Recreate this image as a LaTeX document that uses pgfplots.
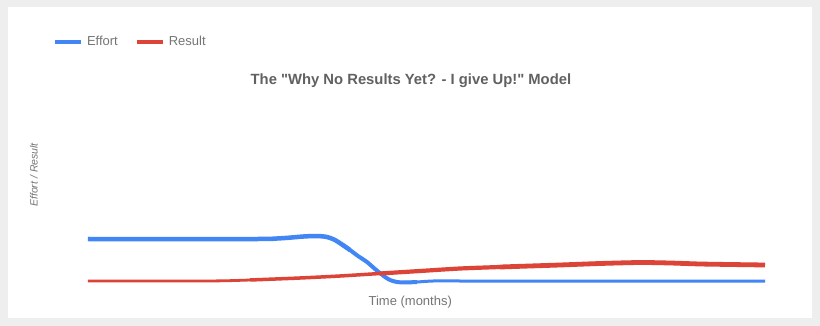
\documentclass[border=0pt]{standalone}
\usepackage{pgfplots}
\pgfplotsset{compat=1.18}
\usepackage{fontspec}
\setmainfont{Liberation Sans}[Ligatures=TeXOff]
\definecolor{gblue}{HTML}{4285F4}
\definecolor{gred}{HTML}{DB4437}
\definecolor{frame}{HTML}{EEEEEE}
\definecolor{titlegray}{HTML}{616161}
\definecolor{axgray}{HTML}{757575}
\begin{document}
\begin{tikzpicture}
\fill[frame] (0pt,0pt) rectangle (820pt,-326pt);
\fill[white] (7.5pt,-7.5pt) rectangle (812pt,-317.5pt);
\begin{axis}[
  at={(88pt,-282pt)}, anchor=south west,
  scale only axis, width=677pt, height=214pt,
  xmin=0, xmax=677, ymin=0, ymax=214,
  axis lines=left, axis line style={draw=none}, ticks=none, clip=false,
  title={The "Why No Results Yet? - I give Up!" Model},
  title style={at={(axis description cs:0.477,0.897)}, anchor=base, yshift=0pt,
    font=\fontsize{14.8}{17}\selectfont\bfseries, text=titlegray, inner sep=0pt},
  xlabel={Time (months)},
  xlabel style={at={(axis description cs:0.476,-0.1075)}, anchor=base,
    font=\fontsize{13}{15}\selectfont, text=axgray, inner sep=0pt},
  ylabel={\itshape Effort / Result},
  ylabel style={at={(axis description cs:-0.0798,0.5)}, anchor=center, rotate=0,
    font=\fontsize{10.5}{12}\selectfont, text=axgray, inner sep=0pt},
  legend columns=2,
  legend style={at={(axis description cs:-0.0517,1.1229)}, anchor=west,
    draw=none, fill=none, inner sep=0pt, outer sep=0pt,
    font=\fontsize{13}{15}\selectfont, text=axgray,
    nodes={inner sep=0pt, anchor=west},
    /tikz/every odd column/.append style={column sep=4pt},
    /tikz/every even column/.append style={column sep=17pt}},
  legend image code/.code={\draw[#1] (0pt,0pt) -- (26pt,0pt);},
  line cap=butt, line join=round,
]
\addlegendimage{gblue, line width=4pt}
\addlegendentry{Effort}
\addlegendimage{gred, line width=4pt}
\addlegendentry{Result}

% Effort (blue)
\addplot[gblue, line width=4.5pt, smooth, tension=0.5, forget plot] coordinates {
 (0,43) (170,43) (185,43.3) (200,44.2) (214,45.4) (227,46) (238,45.2) (246,42.5) (254,37.5) (262,32)};
\addplot[gblue, line width=4pt, smooth, tension=0.4, forget plot] coordinates {
 (254,37.5) (262,32) (270,26) (279,20) (287,13) (292,9) (297,5) (302,2) (309,0) (317,-0.5) (329,0)};
\addplot[gblue, line width=3pt, smooth, tension=0.4, forget plot] coordinates {
 (317,-0.5) (329,0) (345,1) (372,1) (500,1) (677,1)};

% Result (red)
\addplot[gred, line width=2.8pt, smooth, tension=0.5, forget plot] coordinates {
 (0,1) (110,1) (140,1.3) (162,2)};
\addplot[gred, line width=3.5pt, smooth, tension=0.4, forget plot] coordinates {
 (162,2) (212,4) (252,6) (292,8.5)};
\addplot[gred, line width=4.2pt, smooth, tension=0.4, forget plot] coordinates {
 (292,8.5) (332,11) (372,13.5) (412,15)};
\addplot[gred, line width=4.8pt, smooth, tension=0.4, forget plot] coordinates {
 (412,15) (442,16) (472,17) (512,18.5) (552,19.5) (582,19) (612,18) (642,17.5) (677,17)};
\end{axis}
\end{tikzpicture}
\end{document}
